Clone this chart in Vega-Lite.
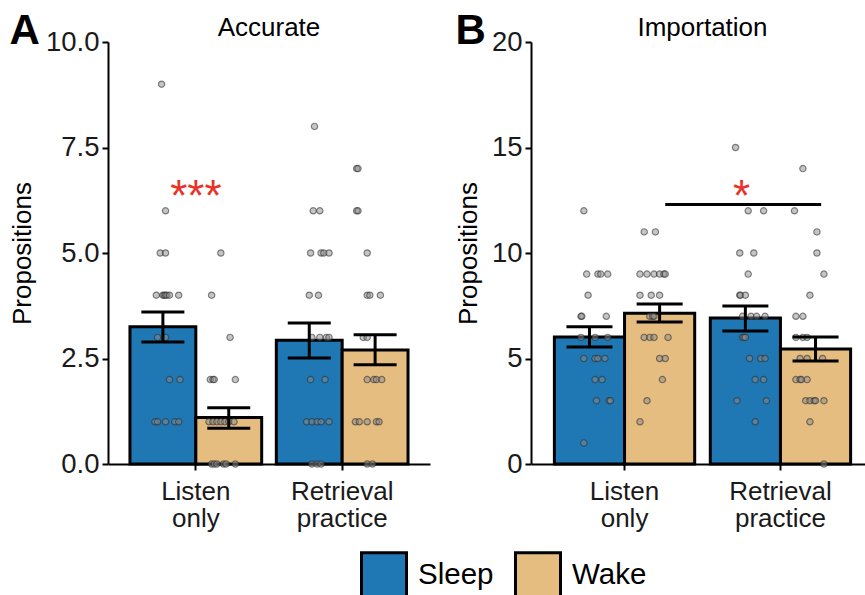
{
  "$schema": "https://vega.github.io/schema/vega-lite/v6.json",
  "padding": {"left": 9, "top": 10, "right": 0, "bottom": 0},
  "background": "white",
  "datasets": {
    "bars": [
      {"panel": "A", "Task": "Listen only", "Condition": "Sleep", "mean": 3.25, "lo": 2.89, "hi": 3.6},
      {"panel": "A", "Task": "Listen only", "Condition": "Wake", "mean": 1.1, "lo": 0.85, "hi": 1.33},
      {"panel": "A", "Task": "Retrieval practice", "Condition": "Sleep", "mean": 2.93, "lo": 2.51, "hi": 3.34},
      {"panel": "A", "Task": "Retrieval practice", "Condition": "Wake", "mean": 2.7, "lo": 2.35, "hi": 3.06},
      {"panel": "B", "Task": "Listen only", "Condition": "Sleep", "mean": 6.02, "lo": 5.55, "hi": 6.5},
      {"panel": "B", "Task": "Listen only", "Condition": "Wake", "mean": 7.15, "lo": 6.73, "hi": 7.58},
      {"panel": "B", "Task": "Retrieval practice", "Condition": "Sleep", "mean": 6.92, "lo": 6.3, "hi": 7.49},
      {"panel": "B", "Task": "Retrieval practice", "Condition": "Wake", "mean": 5.45, "lo": 4.88, "hi": 6.02}
    ],
    "points": [
      {"panel": "A", "Task": "Listen only", "v": 9, "jx": 0.24},
      {"panel": "A", "Task": "Listen only", "v": 6, "jx": 0.27},
      {"panel": "A", "Task": "Listen only", "v": 5, "jx": 0.23},
      {"panel": "A", "Task": "Listen only", "v": 5, "jx": 0.27},
      {"panel": "A", "Task": "Listen only", "v": 4, "jx": 0.2},
      {"panel": "A", "Task": "Listen only", "v": 4, "jx": 0.25},
      {"panel": "A", "Task": "Listen only", "v": 4, "jx": 0.26},
      {"panel": "A", "Task": "Listen only", "v": 4, "jx": 0.27},
      {"panel": "A", "Task": "Listen only", "v": 4, "jx": 0.28},
      {"panel": "A", "Task": "Listen only", "v": 4, "jx": 0.3},
      {"panel": "A", "Task": "Listen only", "v": 4, "jx": 0.37},
      {"panel": "A", "Task": "Listen only", "v": 3, "jx": 0.21},
      {"panel": "A", "Task": "Listen only", "v": 3, "jx": 0.27},
      {"panel": "A", "Task": "Listen only", "v": 2, "jx": 0.3},
      {"panel": "A", "Task": "Listen only", "v": 2, "jx": 0.38},
      {"panel": "A", "Task": "Listen only", "v": 1, "jx": 0.19},
      {"panel": "A", "Task": "Listen only", "v": 1, "jx": 0.21},
      {"panel": "A", "Task": "Listen only", "v": 1, "jx": 0.27},
      {"panel": "A", "Task": "Listen only", "v": 1, "jx": 0.34},
      {"panel": "A", "Task": "Listen only", "v": 1, "jx": 0.37},
      {"panel": "A", "Task": "Listen only", "v": 5, "jx": 0.69},
      {"panel": "A", "Task": "Listen only", "v": 4, "jx": 0.62},
      {"panel": "A", "Task": "Listen only", "v": 3, "jx": 0.76},
      {"panel": "A", "Task": "Listen only", "v": 2, "jx": 0.61},
      {"panel": "A", "Task": "Listen only", "v": 2, "jx": 0.63},
      {"panel": "A", "Task": "Listen only", "v": 2, "jx": 0.64},
      {"panel": "A", "Task": "Listen only", "v": 2, "jx": 0.8},
      {"panel": "A", "Task": "Listen only", "v": 1, "jx": 0.6},
      {"panel": "A", "Task": "Listen only", "v": 1, "jx": 0.63},
      {"panel": "A", "Task": "Listen only", "v": 1, "jx": 0.66},
      {"panel": "A", "Task": "Listen only", "v": 1, "jx": 0.69},
      {"panel": "A", "Task": "Listen only", "v": 1, "jx": 0.72},
      {"panel": "A", "Task": "Listen only", "v": 1, "jx": 0.75},
      {"panel": "A", "Task": "Listen only", "v": 1, "jx": 0.79},
      {"panel": "A", "Task": "Listen only", "v": 0, "jx": 0.62},
      {"panel": "A", "Task": "Listen only", "v": 0, "jx": 0.64},
      {"panel": "A", "Task": "Listen only", "v": 0, "jx": 0.66},
      {"panel": "A", "Task": "Listen only", "v": 0, "jx": 0.71},
      {"panel": "A", "Task": "Listen only", "v": 0, "jx": 0.73},
      {"panel": "A", "Task": "Listen only", "v": 0, "jx": 0.8},
      {"panel": "A", "Task": "Retrieval practice", "v": 8, "jx": 0.29},
      {"panel": "A", "Task": "Retrieval practice", "v": 6, "jx": 0.28},
      {"panel": "A", "Task": "Retrieval practice", "v": 6, "jx": 0.33},
      {"panel": "A", "Task": "Retrieval practice", "v": 5, "jx": 0.26},
      {"panel": "A", "Task": "Retrieval practice", "v": 5, "jx": 0.34},
      {"panel": "A", "Task": "Retrieval practice", "v": 5, "jx": 0.36},
      {"panel": "A", "Task": "Retrieval practice", "v": 5, "jx": 0.4},
      {"panel": "A", "Task": "Retrieval practice", "v": 4, "jx": 0.25},
      {"panel": "A", "Task": "Retrieval practice", "v": 4, "jx": 0.32},
      {"panel": "A", "Task": "Retrieval practice", "v": 3, "jx": 0.27},
      {"panel": "A", "Task": "Retrieval practice", "v": 3, "jx": 0.33},
      {"panel": "A", "Task": "Retrieval practice", "v": 3, "jx": 0.38},
      {"panel": "A", "Task": "Retrieval practice", "v": 3, "jx": 0.4},
      {"panel": "A", "Task": "Retrieval practice", "v": 2, "jx": 0.26},
      {"panel": "A", "Task": "Retrieval practice", "v": 2, "jx": 0.37},
      {"panel": "A", "Task": "Retrieval practice", "v": 1, "jx": 0.23},
      {"panel": "A", "Task": "Retrieval practice", "v": 1, "jx": 0.27},
      {"panel": "A", "Task": "Retrieval practice", "v": 1, "jx": 0.31},
      {"panel": "A", "Task": "Retrieval practice", "v": 1, "jx": 0.34},
      {"panel": "A", "Task": "Retrieval practice", "v": 1, "jx": 0.4},
      {"panel": "A", "Task": "Retrieval practice", "v": 0, "jx": 0.27},
      {"panel": "A", "Task": "Retrieval practice", "v": 0, "jx": 0.31},
      {"panel": "A", "Task": "Retrieval practice", "v": 0, "jx": 0.34},
      {"panel": "A", "Task": "Retrieval practice", "v": 7, "jx": 0.61},
      {"panel": "A", "Task": "Retrieval practice", "v": 7, "jx": 0.62},
      {"panel": "A", "Task": "Retrieval practice", "v": 6, "jx": 0.61},
      {"panel": "A", "Task": "Retrieval practice", "v": 6, "jx": 0.62},
      {"panel": "A", "Task": "Retrieval practice", "v": 5, "jx": 0.69},
      {"panel": "A", "Task": "Retrieval practice", "v": 4, "jx": 0.69},
      {"panel": "A", "Task": "Retrieval practice", "v": 4, "jx": 0.71},
      {"panel": "A", "Task": "Retrieval practice", "v": 4, "jx": 0.79},
      {"panel": "A", "Task": "Retrieval practice", "v": 3, "jx": 0.66},
      {"panel": "A", "Task": "Retrieval practice", "v": 3, "jx": 0.69},
      {"panel": "A", "Task": "Retrieval practice", "v": 2, "jx": 0.69},
      {"panel": "A", "Task": "Retrieval practice", "v": 2, "jx": 0.74},
      {"panel": "A", "Task": "Retrieval practice", "v": 2, "jx": 0.76},
      {"panel": "A", "Task": "Retrieval practice", "v": 2, "jx": 0.8},
      {"panel": "A", "Task": "Retrieval practice", "v": 1, "jx": 0.6},
      {"panel": "A", "Task": "Retrieval practice", "v": 1, "jx": 0.63},
      {"panel": "A", "Task": "Retrieval practice", "v": 1, "jx": 0.69},
      {"panel": "A", "Task": "Retrieval practice", "v": 1, "jx": 0.76},
      {"panel": "A", "Task": "Retrieval practice", "v": 1, "jx": 0.78},
      {"panel": "A", "Task": "Retrieval practice", "v": 0, "jx": 0.69},
      {"panel": "A", "Task": "Retrieval practice", "v": 0, "jx": 0.73},
      {"panel": "B", "Task": "Listen only", "v": 12, "jx": 0.21},
      {"panel": "B", "Task": "Listen only", "v": 9, "jx": 0.23},
      {"panel": "B", "Task": "Listen only", "v": 9, "jx": 0.31},
      {"panel": "B", "Task": "Listen only", "v": 9, "jx": 0.33},
      {"panel": "B", "Task": "Listen only", "v": 9, "jx": 0.38},
      {"panel": "B", "Task": "Listen only", "v": 8, "jx": 0.24},
      {"panel": "B", "Task": "Listen only", "v": 7, "jx": 0.19},
      {"panel": "B", "Task": "Listen only", "v": 7, "jx": 0.195},
      {"panel": "B", "Task": "Listen only", "v": 7, "jx": 0.37},
      {"panel": "B", "Task": "Listen only", "v": 6, "jx": 0.19},
      {"panel": "B", "Task": "Listen only", "v": 6, "jx": 0.29},
      {"panel": "B", "Task": "Listen only", "v": 6, "jx": 0.38},
      {"panel": "B", "Task": "Listen only", "v": 5, "jx": 0.21},
      {"panel": "B", "Task": "Listen only", "v": 5, "jx": 0.29},
      {"panel": "B", "Task": "Listen only", "v": 5, "jx": 0.31},
      {"panel": "B", "Task": "Listen only", "v": 5, "jx": 0.36},
      {"panel": "B", "Task": "Listen only", "v": 4, "jx": 0.29},
      {"panel": "B", "Task": "Listen only", "v": 4, "jx": 0.34},
      {"panel": "B", "Task": "Listen only", "v": 3, "jx": 0.3},
      {"panel": "B", "Task": "Listen only", "v": 3, "jx": 0.39},
      {"panel": "B", "Task": "Listen only", "v": 3, "jx": 0.4},
      {"panel": "B", "Task": "Listen only", "v": 1, "jx": 0.21},
      {"panel": "B", "Task": "Listen only", "v": 11, "jx": 0.64},
      {"panel": "B", "Task": "Listen only", "v": 11, "jx": 0.72},
      {"panel": "B", "Task": "Listen only", "v": 9, "jx": 0.61},
      {"panel": "B", "Task": "Listen only", "v": 9, "jx": 0.66},
      {"panel": "B", "Task": "Listen only", "v": 9, "jx": 0.71},
      {"panel": "B", "Task": "Listen only", "v": 9, "jx": 0.75},
      {"panel": "B", "Task": "Listen only", "v": 9, "jx": 0.78},
      {"panel": "B", "Task": "Listen only", "v": 9, "jx": 0.79},
      {"panel": "B", "Task": "Listen only", "v": 8, "jx": 0.61},
      {"panel": "B", "Task": "Listen only", "v": 8, "jx": 0.69},
      {"panel": "B", "Task": "Listen only", "v": 8, "jx": 0.75},
      {"panel": "B", "Task": "Listen only", "v": 7, "jx": 0.68},
      {"panel": "B", "Task": "Listen only", "v": 7, "jx": 0.7},
      {"panel": "B", "Task": "Listen only", "v": 7, "jx": 0.71},
      {"panel": "B", "Task": "Listen only", "v": 6, "jx": 0.64},
      {"panel": "B", "Task": "Listen only", "v": 6, "jx": 0.68},
      {"panel": "B", "Task": "Listen only", "v": 6, "jx": 0.71},
      {"panel": "B", "Task": "Listen only", "v": 6, "jx": 0.81},
      {"panel": "B", "Task": "Listen only", "v": 5, "jx": 0.75},
      {"panel": "B", "Task": "Listen only", "v": 5, "jx": 0.79},
      {"panel": "B", "Task": "Listen only", "v": 4, "jx": 0.77},
      {"panel": "B", "Task": "Listen only", "v": 3, "jx": 0.66},
      {"panel": "B", "Task": "Listen only", "v": 2, "jx": 0.61},
      {"panel": "B", "Task": "Retrieval practice", "v": 15, "jx": 0.18},
      {"panel": "B", "Task": "Retrieval practice", "v": 12, "jx": 0.27},
      {"panel": "B", "Task": "Retrieval practice", "v": 12, "jx": 0.38},
      {"panel": "B", "Task": "Retrieval practice", "v": 10, "jx": 0.21},
      {"panel": "B", "Task": "Retrieval practice", "v": 10, "jx": 0.31},
      {"panel": "B", "Task": "Retrieval practice", "v": 9, "jx": 0.27},
      {"panel": "B", "Task": "Retrieval practice", "v": 8, "jx": 0.21},
      {"panel": "B", "Task": "Retrieval practice", "v": 8, "jx": 0.215},
      {"panel": "B", "Task": "Retrieval practice", "v": 8, "jx": 0.25},
      {"panel": "B", "Task": "Retrieval practice", "v": 7, "jx": 0.23},
      {"panel": "B", "Task": "Retrieval practice", "v": 7, "jx": 0.29},
      {"panel": "B", "Task": "Retrieval practice", "v": 7, "jx": 0.33},
      {"panel": "B", "Task": "Retrieval practice", "v": 7, "jx": 0.39},
      {"panel": "B", "Task": "Retrieval practice", "v": 6, "jx": 0.23},
      {"panel": "B", "Task": "Retrieval practice", "v": 6, "jx": 0.24},
      {"panel": "B", "Task": "Retrieval practice", "v": 6, "jx": 0.25},
      {"panel": "B", "Task": "Retrieval practice", "v": 5, "jx": 0.28},
      {"panel": "B", "Task": "Retrieval practice", "v": 5, "jx": 0.36},
      {"panel": "B", "Task": "Retrieval practice", "v": 5, "jx": 0.39},
      {"panel": "B", "Task": "Retrieval practice", "v": 4, "jx": 0.32},
      {"panel": "B", "Task": "Retrieval practice", "v": 4, "jx": 0.38},
      {"panel": "B", "Task": "Retrieval practice", "v": 3, "jx": 0.19},
      {"panel": "B", "Task": "Retrieval practice", "v": 3, "jx": 0.4},
      {"panel": "B", "Task": "Retrieval practice", "v": 2, "jx": 0.32},
      {"panel": "B", "Task": "Retrieval practice", "v": 14, "jx": 0.66},
      {"panel": "B", "Task": "Retrieval practice", "v": 12, "jx": 0.6},
      {"panel": "B", "Task": "Retrieval practice", "v": 11, "jx": 0.76},
      {"panel": "B", "Task": "Retrieval practice", "v": 10, "jx": 0.76},
      {"panel": "B", "Task": "Retrieval practice", "v": 9, "jx": 0.81},
      {"panel": "B", "Task": "Retrieval practice", "v": 8, "jx": 0.71},
      {"panel": "B", "Task": "Retrieval practice", "v": 7, "jx": 0.61},
      {"panel": "B", "Task": "Retrieval practice", "v": 7, "jx": 0.66},
      {"panel": "B", "Task": "Retrieval practice", "v": 6, "jx": 0.61},
      {"panel": "B", "Task": "Retrieval practice", "v": 6, "jx": 0.66},
      {"panel": "B", "Task": "Retrieval practice", "v": 6, "jx": 0.69},
      {"panel": "B", "Task": "Retrieval practice", "v": 5, "jx": 0.64},
      {"panel": "B", "Task": "Retrieval practice", "v": 5, "jx": 0.69},
      {"panel": "B", "Task": "Retrieval practice", "v": 5, "jx": 0.8},
      {"panel": "B", "Task": "Retrieval practice", "v": 4, "jx": 0.61},
      {"panel": "B", "Task": "Retrieval practice", "v": 4, "jx": 0.64},
      {"panel": "B", "Task": "Retrieval practice", "v": 4, "jx": 0.65},
      {"panel": "B", "Task": "Retrieval practice", "v": 4, "jx": 0.69},
      {"panel": "B", "Task": "Retrieval practice", "v": 3, "jx": 0.68},
      {"panel": "B", "Task": "Retrieval practice", "v": 3, "jx": 0.71},
      {"panel": "B", "Task": "Retrieval practice", "v": 3, "jx": 0.74},
      {"panel": "B", "Task": "Retrieval practice", "v": 3, "jx": 0.75},
      {"panel": "B", "Task": "Retrieval practice", "v": 3, "jx": 0.81},
      {"panel": "B", "Task": "Retrieval practice", "v": 2, "jx": 0.71},
      {"panel": "B", "Task": "Retrieval practice", "v": 0, "jx": 0.81}
    ],
    "sig": [
      {"panel": "A", "Task": "Listen only", "y": 6.3, "label": "***"},
      {"panel": "B", "Task": "Retrieval practice", "y": 12.6, "label": "*"}
    ],
    "bracket": [
      {"panel": "B", "from": "Listen only", "to": "Retrieval practice", "y": 12.3}
    ]
  },
  "hconcat": [
    {
      "title": {"text": "A", "anchor": "start", "frame": "bounds", "fontSize": 42, "fontWeight": "bold", "offset": -38, "color": "black"},
      "vconcat": [
        {
          "width": 322,
          "height": 422,
          "title": {"text": "Accurate", "fontSize": 26, "fontWeight": "normal", "color": "black", "offset": -13},
          "layer": [
            {
              "data": {"name": "bars"},
              "transform": [{"filter": "datum.panel === 'A'"}],
              "mark": {"type": "bar", "stroke": "black", "strokeWidth": 3},
              "encoding": {
                "x": {"field": "Task", "type": "nominal", "sort": ["Listen only", "Retrieval practice"], "scale": {"paddingInner": 0.1, "paddingOuter": 0.15}, "axis": {"title": null, "labelAngle": 0, "labelExpr": "split(datum.label, ' ')", "labelLineHeight": 27, "labelPadding": 8}},
                "xOffset": {"field": "Condition", "type": "nominal", "sort": ["Sleep", "Wake"]},
                "y": {"field": "mean", "type": "quantitative", "scale": {"domain": [0, 10], "nice": false}, "axis": {"title": "Propositions", "values": [0, 2.5, 5, 7.5, 10], "format": ".1f"}},
                "color": {"field": "Condition", "type": "nominal", "scale": {"domain": ["Sleep", "Wake"], "range": ["#1f78b4", "#e5bd80"]}, "legend": {"title": null}}
              }
            },
            {
              "data": {"name": "points"},
              "transform": [{"filter": "datum.panel === 'A'"}],
              "mark": {"type": "circle", "size": 40, "fill": "#8c8c8c", "fillOpacity": 0.5, "stroke": "#2a2a2a", "strokeOpacity": 0.55, "strokeWidth": 1.2},
              "encoding": {
                "x": {"field": "Task", "type": "nominal", "sort": ["Listen only", "Retrieval practice"]},
                "xOffset": {"field": "jx", "type": "quantitative", "scale": {"domain": [0, 1]}},
                "y": {"field": "v", "type": "quantitative"}
              }
            },
            {
              "data": {"name": "bars"},
              "transform": [{"filter": "datum.panel === 'A'"}],
              "mark": {"type": "rule", "color": "black", "strokeWidth": 3},
              "encoding": {
                "x": {"field": "Task", "type": "nominal", "sort": ["Listen only", "Retrieval practice"]},
                "xOffset": {"field": "Condition", "type": "nominal", "sort": ["Sleep", "Wake"]},
                "y": {"field": "lo", "type": "quantitative"},
                "y2": {"field": "hi"}
              }
            },
            {
              "data": {"name": "bars"},
              "transform": [{"filter": "datum.panel === 'A'"}],
              "mark": {"type": "tick", "color": "black", "thickness": 3, "size": 43, "opacity": 1},
              "encoding": {
                "x": {"field": "Task", "type": "nominal", "sort": ["Listen only", "Retrieval practice"]},
                "xOffset": {"field": "Condition", "type": "nominal", "sort": ["Sleep", "Wake"]},
                "y": {"field": "lo", "type": "quantitative"}
              }
            },
            {
              "data": {"name": "bars"},
              "transform": [{"filter": "datum.panel === 'A'"}],
              "mark": {"type": "tick", "color": "black", "thickness": 3, "size": 43, "opacity": 1},
              "encoding": {
                "x": {"field": "Task", "type": "nominal", "sort": ["Listen only", "Retrieval practice"]},
                "xOffset": {"field": "Condition", "type": "nominal", "sort": ["Sleep", "Wake"]},
                "y": {"field": "hi", "type": "quantitative"}
              }
            },
            {
              "data": {"name": "sig"},
              "transform": [{"filter": "datum.panel === 'A'"}],
              "mark": {"type": "text", "color": "#e8332a", "fontSize": 44, "baseline": "middle"},
              "encoding": {
                "x": {"field": "Task", "type": "nominal", "sort": ["Listen only", "Retrieval practice"], "bandPosition": 0.5},
                "y": {"field": "y", "type": "quantitative"},
                "text": {"field": "label"}
              }
            }
          ],
          "resolve": {"scale": {"xOffset": "independent"}}
        }
      ]
    },
    {
      "title": {"text": "B", "anchor": "start", "frame": "bounds", "fontSize": 42, "fontWeight": "bold", "offset": -38, "color": "black"},
      "vconcat": [
        {
          "width": 343,
          "height": 422,
          "title": {"text": "Importation", "fontSize": 26, "fontWeight": "normal", "color": "black", "offset": -13},
          "layer": [
            {
              "data": {"name": "bars"},
              "transform": [{"filter": "datum.panel === 'B'"}],
              "mark": {"type": "bar", "stroke": "black", "strokeWidth": 3},
              "encoding": {
                "x": {"field": "Task", "type": "nominal", "sort": ["Listen only", "Retrieval practice"], "scale": {"paddingInner": 0.1, "paddingOuter": 0.15}, "axis": {"title": null, "labelAngle": 0, "labelExpr": "split(datum.label, ' ')", "labelLineHeight": 27, "labelPadding": 8}},
                "xOffset": {"field": "Condition", "type": "nominal", "sort": ["Sleep", "Wake"]},
                "y": {"field": "mean", "type": "quantitative", "scale": {"domain": [0, 20], "nice": false}, "axis": {"title": "Propositions", "values": [0, 5, 10, 15, 20], "format": "d"}},
                "color": {"field": "Condition", "type": "nominal", "scale": {"domain": ["Sleep", "Wake"], "range": ["#1f78b4", "#e5bd80"]}, "legend": {"title": null}}
              }
            },
            {
              "data": {"name": "points"},
              "transform": [{"filter": "datum.panel === 'B'"}],
              "mark": {"type": "circle", "size": 40, "fill": "#8c8c8c", "fillOpacity": 0.5, "stroke": "#2a2a2a", "strokeOpacity": 0.55, "strokeWidth": 1.2},
              "encoding": {
                "x": {"field": "Task", "type": "nominal", "sort": ["Listen only", "Retrieval practice"]},
                "xOffset": {"field": "jx", "type": "quantitative", "scale": {"domain": [0, 1]}},
                "y": {"field": "v", "type": "quantitative"}
              }
            },
            {
              "data": {"name": "bars"},
              "transform": [{"filter": "datum.panel === 'B'"}],
              "mark": {"type": "rule", "color": "black", "strokeWidth": 3},
              "encoding": {
                "x": {"field": "Task", "type": "nominal", "sort": ["Listen only", "Retrieval practice"]},
                "xOffset": {"field": "Condition", "type": "nominal", "sort": ["Sleep", "Wake"]},
                "y": {"field": "lo", "type": "quantitative"},
                "y2": {"field": "hi"}
              }
            },
            {
              "data": {"name": "bars"},
              "transform": [{"filter": "datum.panel === 'B'"}],
              "mark": {"type": "tick", "color": "black", "thickness": 3, "size": 46, "opacity": 1},
              "encoding": {
                "x": {"field": "Task", "type": "nominal", "sort": ["Listen only", "Retrieval practice"]},
                "xOffset": {"field": "Condition", "type": "nominal", "sort": ["Sleep", "Wake"]},
                "y": {"field": "lo", "type": "quantitative"}
              }
            },
            {
              "data": {"name": "bars"},
              "transform": [{"filter": "datum.panel === 'B'"}],
              "mark": {"type": "tick", "color": "black", "thickness": 3, "size": 46, "opacity": 1},
              "encoding": {
                "x": {"field": "Task", "type": "nominal", "sort": ["Listen only", "Retrieval practice"]},
                "xOffset": {"field": "Condition", "type": "nominal", "sort": ["Sleep", "Wake"]},
                "y": {"field": "hi", "type": "quantitative"}
              }
            },
            {
              "data": {"name": "bracket"},
              "mark": {"type": "rule", "color": "black", "strokeWidth": 3},
              "encoding": {
                "x": {"field": "from", "type": "nominal", "sort": ["Listen only", "Retrieval practice"], "bandPosition": 0.79},
                "x2": {"field": "to", "bandPosition": 0.79},
                "y": {"field": "y", "type": "quantitative"}
              }
            },
            {
              "data": {"name": "sig"},
              "transform": [{"filter": "datum.panel === 'B'"}],
              "mark": {"type": "text", "color": "#e8332a", "fontSize": 44, "baseline": "middle"},
              "encoding": {
                "x": {"field": "Task", "type": "nominal", "sort": ["Listen only", "Retrieval practice"], "bandPosition": 0.222},
                "y": {"field": "y", "type": "quantitative"},
                "text": {"field": "label"}
              }
            }
          ],
          "resolve": {"scale": {"xOffset": "independent"}}
        }
      ]
    }
  ],
  "spacing": 25,
  "config": {
    "font": "Liberation Sans",
    "view": {"stroke": null},
    "axis": {"grid": false, "domainColor": "black", "domainWidth": 2, "tickColor": "black", "tickWidth": 2, "tickSize": 6, "labelFontSize": 26, "labelColor": "#1a1a1a", "labelPadding": 3, "titleFontSize": 26, "titleFontWeight": "normal", "titleColor": "black", "titlePadding": 10},
    "axisY": {"labelFontSize": 27.5},
    "title": {"fontSize": 26, "fontWeight": "normal"},
    "legend": {"orient": "none", "legendX": 252, "legendY": 509, "direction": "horizontal", "symbolType": "square", "symbolSize": 2025, "symbolStrokeColor": "black", "symbolStrokeWidth": 3, "symbolOpacity": 1, "labelFontSize": 29.5, "labelColor": "black", "labelOffset": 10, "columnPadding": 15}
  }
}
